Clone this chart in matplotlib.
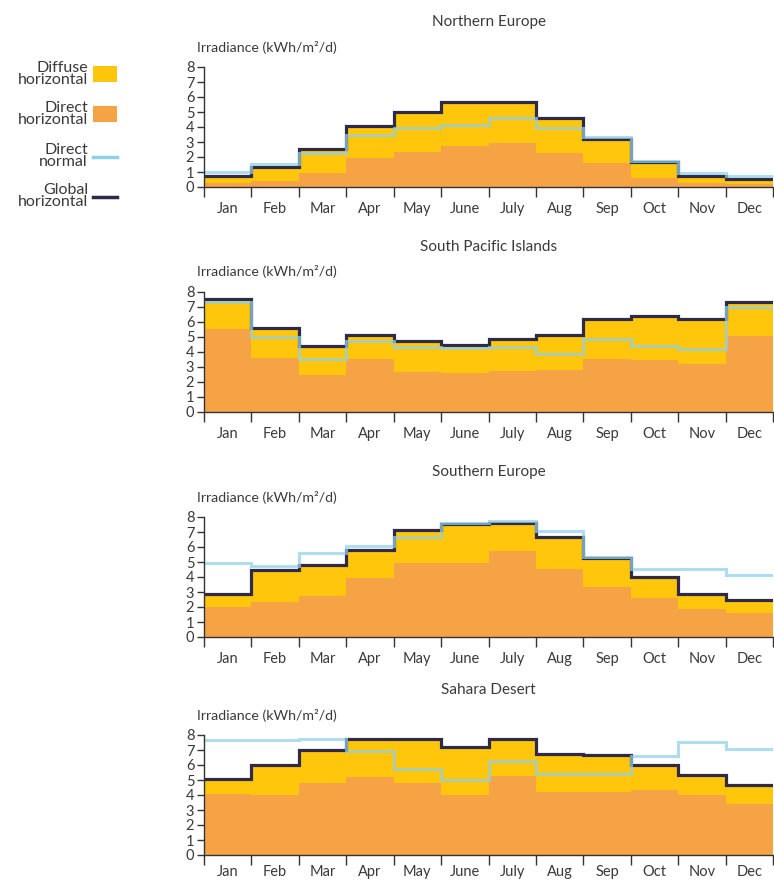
import matplotlib
matplotlib.use("Agg")
import matplotlib.pyplot as plt
import numpy as np
from matplotlib.patches import Rectangle
from matplotlib.lines import Line2D

plt.rcParams['font.family'] = ['Lato', 'DejaVu Sans']

months = ["Jan", "Feb", "Mar", "Apr", "May", "June", "July", "Aug", "Sep", "Oct", "Nov", "Dec"]
regions = ["Northern Europe", "South Pacific Islands", "Southern Europe", "Sahara Desert"]

# Global horizontal (top of stack), direct horizontal (orange), direct normal (blue line)
ne_global = [0.75, 1.35, 2.53, 4.09, 5.02, 5.69, 5.69, 4.62, 3.2, 1.64, 0.73, 0.51]
ne_direct_h = [0.3, 0.4, 0.95, 1.95, 2.35, 2.75, 2.91, 2.24, 1.58, 0.58, 0.3, 0.2]
ne_direct_n = [0.98, 1.53, 2.24, 3.47, 3.95, 4.13, 4.58, 3.95, 3.31, 1.75, 0.91, 0.73]

sp_global = [7.53, 5.62, 4.42, 5.11, 4.76, 4.47, 4.84, 5.13, 6.2, 6.4, 6.2, 7.36]
sp_direct_h = [5.51, 3.58, 2.47, 3.51, 2.69, 2.62, 2.76, 2.8, 3.56, 3.47, 3.18, 5.09]
sp_direct_n = [7.33, 5.02, 3.51, 4.7, 4.36, 4.24, 4.36, 3.84, 4.84, 4.4, 4.18, 7.02]

se_global = [2.87, 4.47, 4.78, 5.8, 7.13, 7.53, 7.62, 6.64, 5.24, 3.98, 2.87, 2.47]
se_direct_h = [2.02, 2.36, 2.76, 3.91, 4.96, 4.96, 5.73, 4.53, 3.36, 2.58, 1.87, 1.58]
se_direct_n = [4.91, 4.71, 5.58, 6.05, 6.64, 7.6, 7.76, 7.09, 5.36, 4.53, 4.53, 4.13]

sd_global = [5.09, 5.98, 6.98, 7.76, 7.76, 7.2, 7.76, 6.76, 6.64, 5.98, 5.31, 4.64]
sd_direct_h = [4.04, 3.98, 4.8, 5.2, 4.8, 3.98, 5.27, 4.2, 4.2, 4.36, 4.02, 3.42]
sd_direct_n = [7.64, 7.64, 7.71, 6.91, 5.71, 4.98, 6.27, 5.42, 5.42, 6.58, 7.53, 7.04]

data = [
    (ne_global, ne_direct_h, ne_direct_n),
    (sp_global, sp_direct_h, sp_direct_n),
    (se_global, se_direct_h, se_direct_n),
    (sd_global, sd_direct_h, sd_direct_n),
]

C_DIFF = "#FFC60B"
C_DIRH = "#F6A346"
C_DIRN = "#8ED1EA"
C_GLOB = "#2E2A48"
C_TEXT = "#3a3a3a"

W, H = 774, 882
fig = plt.figure(figsize=(W / 100, H / 100), dpi=100)

def fx(px):
    return px / W

def fy(py):
    return 1 - py / H

ax_left, ax_right = 204, 773
bottoms = [187, 412, 637, 855]
pads = [11, 11, 11, 7]
ax_h = 120
edges = np.arange(13)

for i, (region, (g, dh, dn)) in enumerate(zip(regions, data)):
    b = bottoms[i]
    ax = fig.add_axes([fx(ax_left), fy(b), (ax_right - ax_left) / W, ax_h / H])
    g = np.array(g); dh = np.array(dh); dn = np.array(dn)
    ax.stairs(dh, edges, baseline=0, fill=True, color=C_DIRH, lw=0, zorder=1)
    ax.stairs(g, edges, baseline=dh, fill=True, color=C_DIFF, lw=0, zorder=1)
    ax.stairs(g, edges, baseline=None, color=C_GLOB, lw=2.3, zorder=3)
    ax.stairs(dn, edges, baseline=None, color=C_DIRN, lw=2.2, alpha=0.72, zorder=4)
    ax.set_xlim(0, 12)
    ax.set_ylim(0, 8)
    for s in ["top", "right"]:
        ax.spines[s].set_visible(False)
    for s in ["left", "bottom"]:
        ax.spines[s].set_color("#333333")
        ax.spines[s].set_linewidth(1.0)
        ax.spines[s].set_zorder(5)
    ax.set_yticks(range(9))
    ax.set_yticklabels([str(v) for v in range(9)])
    ax.set_xticks(edges)
    ax.set_xticklabels([])
    ax.set_xticks(edges[:-1] + 0.5, minor=True)
    ax.set_xticklabels(months, minor=True)
    ax.tick_params(axis="x", which="major", length=7, width=1.0, color="#333333", direction="out")
    ax.tick_params(axis="x", which="minor", length=0, pad=pads[i], labelsize=10.5, labelcolor=C_TEXT)
    ax.tick_params(axis="y", length=5, width=1.0, color="#333333", pad=2, labelsize=10.5, labelcolor=C_TEXT)
    ax.patch.set_alpha(0)
    fig.text(fx((ax_left + ax_right) / 2), fy(b - ax_h - 45), region, ha="center", va="center",
             fontsize=11, color=C_TEXT)
    fig.text(fx(197), fy(b - ax_h - 20), "Irradiance (kWh/m²/d)", ha="left", va="center",
             fontsize=10.2, color=C_TEXT)

# Legend
leg_items = [
    ("Diffuse\nhorizontal", 74, "patch", C_DIFF),
    ("Direct\nhorizontal", 114, "patch", C_DIRH),
    ("Direct\nnormal", 156, "line", C_DIRN),
    ("Global\nhorizontal", 196, "line", C_GLOB),
]
for label, yc, kind, col in leg_items:
    fig.text(fx(88), fy(yc), label, ha="right", va="center", fontsize=11.5,
             color=C_TEXT, linespacing=0.8)
    if kind == "patch":
        fig.add_artist(Rectangle((fx(93), fy(yc + 8)), 24 / W, 16 / H, transform=fig.transFigure,
                                 color=col, lw=0))
    else:
        fig.add_artist(Line2D([fx(93), fx(117)], [fy(yc + 1), fy(yc + 1)], transform=fig.transFigure,
                              color=col, lw=2.5))

fig.savefig("out.png", dpi=100)
